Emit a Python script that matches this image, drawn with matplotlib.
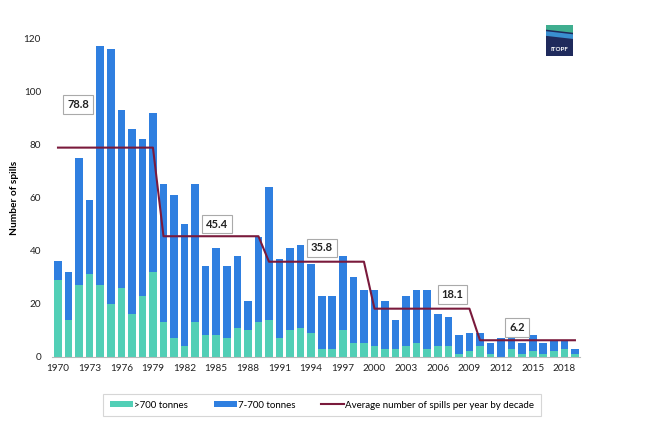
import matplotlib
matplotlib.use("Agg")
import matplotlib.pyplot as plt
import numpy as np
from matplotlib.patches import Rectangle, Polygon

plt.rcParams['font.family'] = ['Lato', 'DejaVu Sans']

years = list(range(1970, 2020))
large = [29, 14, 27, 31, 27, 20, 26, 16, 23, 32,
         13, 7, 4, 13, 8, 8, 7, 11, 10, 13,
         14, 7, 10, 11, 9, 3, 3, 10, 5, 5,
         4, 3, 3, 4, 5, 3, 4, 4, 1, 2,
         4, 1, 0, 3, 1, 2, 1, 2, 3, 1]
medium = [7, 18, 48, 28, 90, 96, 67, 70, 59, 60,
          52, 54, 46, 52, 26, 33, 27, 27, 11, 32,
          50, 30, 31, 31, 26, 20, 20, 28, 25, 20,
          21, 18, 11, 19, 20, 22, 12, 11, 7, 7,
          5, 4, 7, 5, 4, 6, 4, 4, 3, 2]
decade_avg = [78.8, 45.4, 35.8, 18.1, 6.2]
avg_label_pos = [(1.9, 95), (15.1, 50), (25.0, 41), (37.4, 23.5), (43.5, 11)]
tick_years = list(range(1970, 2020, 3))

c_large = "#52cfb6"
c_med = "#2f7fe0"
c_line = "#7a1a3c"

fig = plt.figure(figsize=(6.61, 4.30), dpi=100)
ax = fig.add_axes([52.2 / 661, 1 - 356.7 / 430, 528 / 661, 318.4 / 430])

x = np.arange(len(years))
b1 = ax.bar(x, large, width=0.72, color=c_large, label=">700 tonnes")
b2 = ax.bar(x, medium, width=0.72, bottom=large, color=c_med, label="7-700 tonnes")
avg_series = [decade_avg[i // 10] for i in range(len(years))]
ln, = ax.plot(x, avg_series, color=c_line, lw=1.5,
              label="Average number of spills per year by decade")

for (px, py), v in zip(avg_label_pos, decade_avg):
    ax.text(px, py, f"{v}", ha="center", va="center", fontsize=8, fontweight="bold",
            color="#222222",
            bbox=dict(boxstyle="square,pad=0.35", fc="white", ec="#aaaaaa", lw=0.8))

ax.set_xlim(-0.55, 49.5)
ax.set_ylim(0, 120)
ax.set_yticks(range(0, 121, 20))
ax.set_xticks([y - 1970 for y in tick_years])
ax.set_xticklabels([str(y) for y in tick_years])
ax.tick_params(axis="both", length=0, labelsize=7.2, colors="#222222")
ax.tick_params(axis="x", pad=5)
ax.tick_params(axis="y", pad=8)
for s in ["top", "right", "left"]:
    ax.spines[s].set_visible(False)
ax.spines["bottom"].set_color("#bbbbbb")
ax.set_ylabel("Number of spills", fontsize=7.3, fontweight="bold")
ax.yaxis.set_label_coords((19 - 52.2) / 528, 0.5)

leg = fig.legend([b1, b2, ln], [b1.get_label(), b2.get_label(), ln.get_label()],
                 loc="center",
                 bbox_to_anchor=(322 / 661, 1 - 405 / 430), ncol=3, fontsize=7,
                 frameon=True, fancybox=False, edgecolor="#cccccc",
                 handlelength=2.4, handleheight=0.6, handletextpad=0.1,
                 columnspacing=2.6, borderpad=0.7, borderaxespad=0)
leg.get_frame().set_linewidth(0.8)
fig.canvas.draw()
# widen the frame horizontally a little, as in the reference
fr = leg.get_frame()
leg._legend_box.set_offset  # keep layout
leg.set_bbox_to_anchor((322 / 661, 1 - 405 / 430), transform=fig.transFigure)
bb = fr.get_bbox()
fr.set_bounds(bb.x0 - 12, bb.y0, bb.width + 24, bb.height)

# simple logo approximation
lx0, ly0, lw_, lh_ = 546 / 661, 1 - 56 / 430, 27 / 661, 31 / 430
fig.patches.append(Rectangle((lx0, ly0), lw_, lh_, transform=fig.transFigure,
                             fc="#1f2a5c", ec="none"))
fig.patches.append(Polygon([(lx0, ly0 + lh_), (lx0 + lw_, ly0 + lh_),
                            (lx0 + lw_, ly0 + lh_ * 0.75), (lx0, ly0 + lh_ * 0.85)],
                           closed=True, transform=fig.transFigure, fc="#3fae8f", ec="none"))
fig.patches.append(Polygon([(lx0, ly0 + lh_ * 0.8), (lx0 + lw_, ly0 + lh_ * 0.7),
                            (lx0 + lw_, ly0 + lh_ * 0.55), (lx0, ly0 + lh_ * 0.65)],
                           closed=True, transform=fig.transFigure, fc="#3a8fd0", ec="none"))
fig.text(lx0 + lw_ / 2, ly0 + lh_ * 0.2, "ITOPF", color="white", fontsize=4.5,
         fontweight="bold", ha="center", va="center")

fig.savefig("out.png", dpi=100)
